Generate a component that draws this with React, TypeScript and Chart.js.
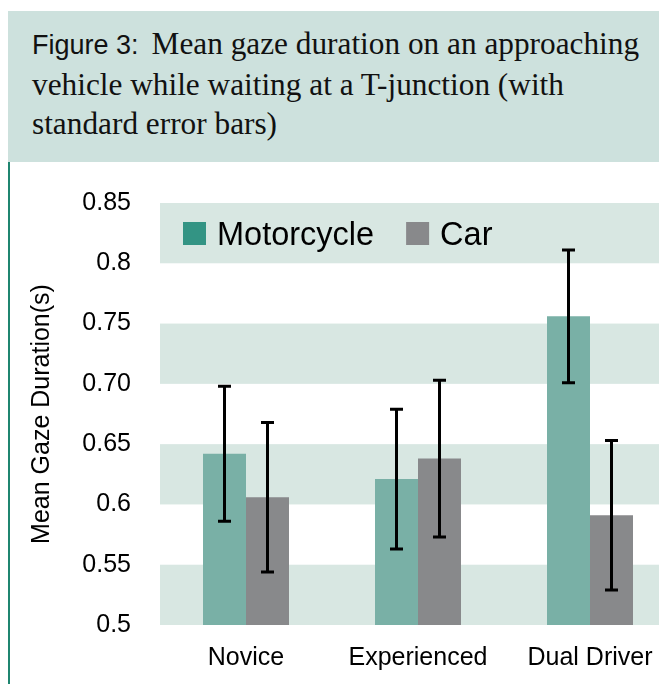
import React, { useEffect, useRef } from "react";
import { Chart, registerables } from "chart.js";

Chart.register(...registerables);

const categories = ["Novice", "Experienced", "Dual Driver"];
const seriesNames = ["Motorcycle", "Car"];
const motorcycleMeans = [0.642, 0.621, 0.756];
const carMeans = [0.606, 0.638, 0.591];
const motorcycleErr = [0.056, 0.058, 0.055];
const carErr = [0.062, 0.065, 0.062];
const yTickLabels = ["0.5", "0.55", "0.6", "0.65", "0.70", "0.75", "0.8", "0.85"];
const bandStarts = [0.5, 0.6, 0.7, 0.8];
const bandHeight = 0.05;

const SANS = '"Liberation Sans", Arial, Helvetica, sans-serif';
const SERIF = '"Liberation Serif", "Times New Roman", Times, serif';

const barColors = ["#79B0A6", "#88898B"];
const legendColors = ["#339484", "#88898B"];
const bandColor = "#D8E7E2";

const bandsPlugin = {
  id: "bands",
  beforeDatasetsDraw(chart: any) {
    const { ctx, chartArea, scales } = chart;
    const y = scales.y;
    ctx.save();
    ctx.fillStyle = bandColor;
    bandStarts.forEach((v) => {
      const top = y.getPixelForValue(v + bandHeight);
      const bot = y.getPixelForValue(v);
      ctx.fillRect(chartArea.left, top, chartArea.right - chartArea.left, bot - top);
    });
    ctx.restore();
  },
};

const errorBarPlugin = {
  id: "errorBars",
  afterDatasetsDraw(chart: any) {
    const { ctx, scales } = chart;
    const y = scales.y;
    const errs = [motorcycleErr, carErr];
    ctx.save();
    ctx.strokeStyle = "#000";
    ctx.lineWidth = 3;
    chart.data.datasets.forEach((ds: any, di: number) => {
      const meta = chart.getDatasetMeta(di);
      meta.data.forEach((el: any, i: number) => {
        const v = ds.data[i];
        const e = errs[di][i];
        const x = el.x;
        const yt = y.getPixelForValue(v + e);
        const yb = y.getPixelForValue(v - e);
        ctx.beginPath();
        ctx.moveTo(x, yt);
        ctx.lineTo(x, yb);
        ctx.moveTo(x - 6.5, yt);
        ctx.lineTo(x + 6.5, yt);
        ctx.moveTo(x - 6.5, yb);
        ctx.lineTo(x + 6.5, yb);
        ctx.stroke();
      });
    });
    ctx.restore();
  },
};

const legendPlugin = {
  id: "insideLegend",
  afterDraw(chart: any) {
    const { ctx, chartArea } = chart;
    ctx.save();
    ctx.font = `32.5px ${SANS}`;
    ctx.textBaseline = "alphabetic";
    ctx.textAlign = "left";
    let x = chartArea.left + 23;
    const top = chartArea.top + 19;
    seriesNames.forEach((name, i) => {
      ctx.fillStyle = legendColors[i];
      ctx.fillRect(x, top, 23, 23);
      ctx.fillStyle = "#000";
      ctx.fillText(name, x + 34, top + 23);
      x += 34 + ctx.measureText(name).width + 32;
    });
    ctx.restore();
  },
};

function BarChart() {
  const ref = useRef<HTMLCanvasElement | null>(null);
  useEffect(() => {
    if (!ref.current) return;
    const chart = new Chart(ref.current, {
      type: "bar",
      data: {
        labels: categories,
        datasets: [
          { label: seriesNames[0], data: motorcycleMeans, backgroundColor: barColors[0] },
          { label: seriesNames[1], data: carMeans, backgroundColor: barColors[1] },
        ],
      },
      options: {
        animation: false,
        responsive: false,
        maintainAspectRatio: false,
        layout: { padding: { top: 41, left: 0, right: 0, bottom: 0 } },
        plugins: { legend: { display: false }, tooltip: { enabled: false }, title: { display: false } },
        datasets: { bar: { categoryPercentage: 0.5, barPercentage: 1.0 } },
        scales: {
          x: {
            grid: { display: false, drawTicks: false },
            border: { display: false },
            ticks: { color: "#000", font: { family: SANS, size: 25 }, padding: 18, maxRotation: 0 },
            afterFit(scale: any) {
              scale.height = 59;
            },
          },
          y: {
            min: 0.5,
            max: 0.85,
            grid: { display: true, color: "rgba(0,0,0,0)", drawTicks: true, tickLength: 29, drawOnChartArea: false },
            border: { display: false },
            ticks: {
              stepSize: 0.05,
              color: "#000",
              font: { family: SANS, size: 25 },
              padding: 0,
              callback: (_v: any, i: number) => yTickLabels[i],
            },
            title: {
              display: true,
              text: "Mean Gaze Duration(s)",
              color: "#000",
              font: { family: SANS, size: 25 },
              padding: { top: 19, bottom: 0 },
            },
            afterFit(scale: any) {
              scale.width = 152;
            },
          },
        },
      } as any,
      plugins: [bandsPlugin, errorBarPlugin, legendPlugin],
    });
    return () => chart.destroy();
  }, []);
  return <canvas ref={ref} width={668} height={522} style={{ display: "block" }} />;
}

export default function App() {
  return (
    <div style={{ position: "relative", width: 659, height: 676, overflow: "hidden" }}>
      <div
        style={{
          position: "absolute",
          left: -1,
          top: 3,
          width: 660,
          height: 151,
          background: "#CDE1DD",
          boxSizing: "border-box",
          padding: "13px 0 0 25px",
          fontFamily: SERIF,
          fontSize: 31.3,
          lineHeight: "39px",
          color: "#111",
          whiteSpace: "nowrap",
        }}
      >
        <span style={{ fontFamily: SANS, fontSize: 27, paddingRight: 13 }}>Figure 3:</span>
        <span>Mean gaze duration on an approaching</span>
        <br />
        <span>vehicle while waiting at a T-junction (with</span>
        <br />
        <span>standard error bars)</span>
      </div>
      <div style={{ position: "absolute", left: 0, top: 154, width: 2, height: 522, background: "#1F8570" }} />
      <div style={{ position: "absolute", left: 0, top: 154, width: 668, height: 522 }}>
        <BarChart />
      </div>
    </div>
  );
}
